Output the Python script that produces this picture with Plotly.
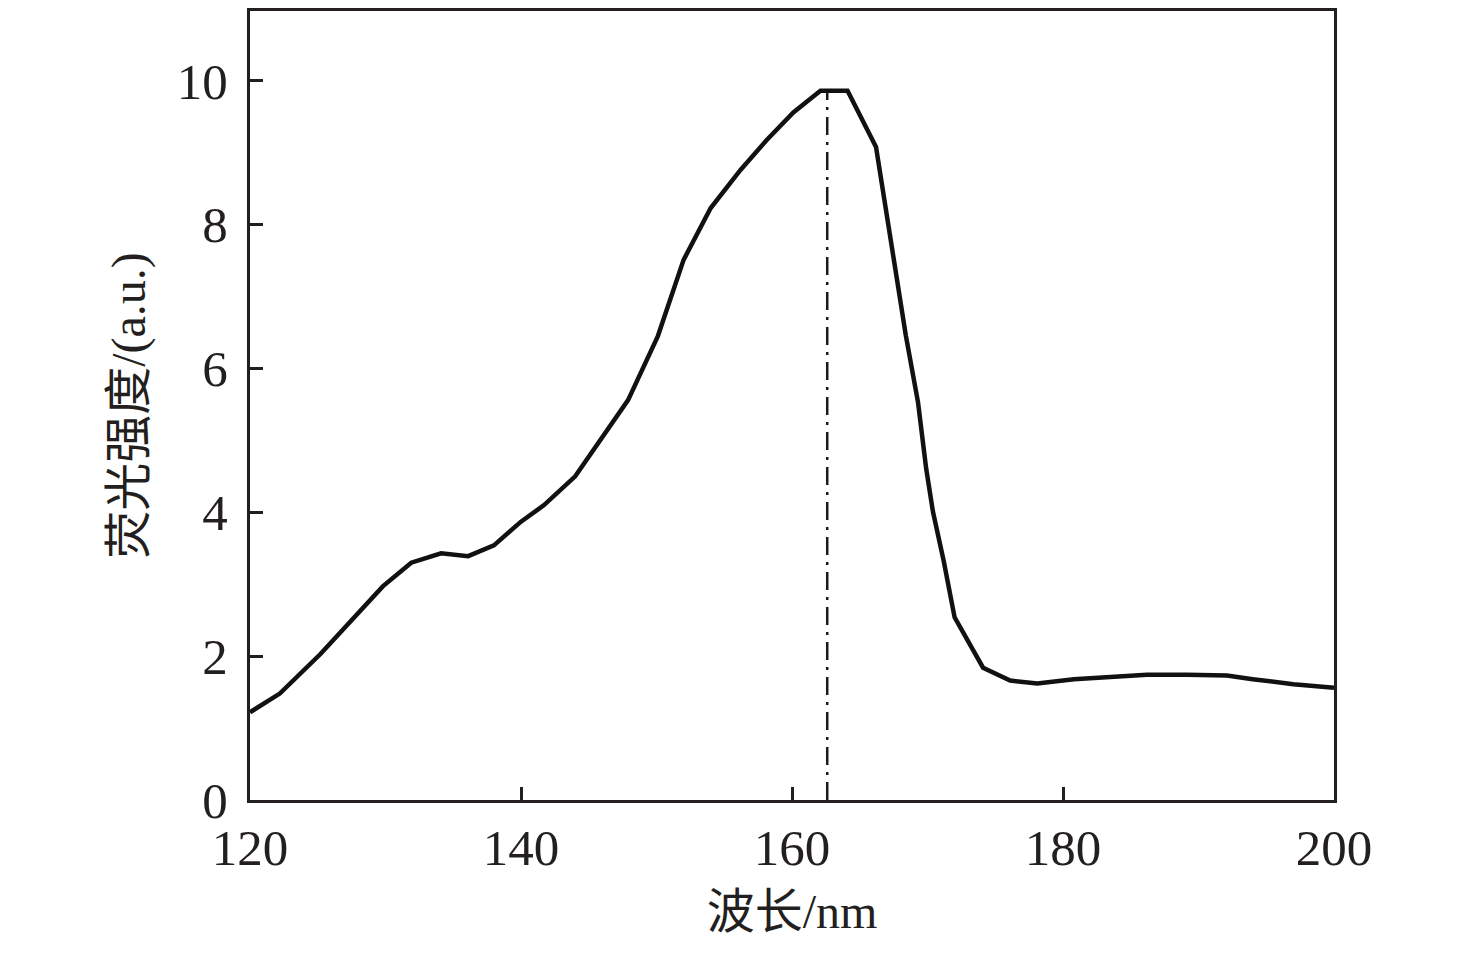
import plotly.graph_objects as go

# spectrum
wavelength = [120.0, 122.2, 125.2, 127.5, 129.8, 131.9, 134.1, 136.1, 138.0, 140.0,
              141.7, 144.0, 145.9, 147.9, 150.1, 152.0, 154.0, 156.2, 158.1, 160.1,
              162.1, 164.1, 166.2, 167.5, 168.4, 169.3, 169.9, 170.4, 171.2, 172.0,
              174.1, 176.1, 178.1, 180.8, 183.2, 186.2, 189.1, 192.1, 194.0, 197.0, 200.0]
intensity = [1.22, 1.48, 2.03, 2.49, 2.97, 3.30, 3.43, 3.39, 3.54, 3.87,
             4.10, 4.50, 5.03, 5.56, 6.45, 7.51, 8.23, 8.76, 9.17, 9.56,
             9.86, 9.86, 9.08, 7.47, 6.46, 5.53, 4.61, 4.01, 3.32, 2.54,
             1.84, 1.66, 1.62, 1.68, 1.71, 1.74, 1.74, 1.73, 1.68, 1.61, 1.56]

# peak marker (dash-dot line)
peak_x = [162.6, 162.6]
peak_y = [0.0, 9.86]

x_ticks = [120, 140, 160, 180, 200]
y_ticks = [0, 2, 4, 6, 8, 10]

font_main = "Liberation Serif, Noto Sans CJK SC, serif"

fig = go.Figure()
fig.add_trace(go.Scatter(x=peak_x, y=peak_y, mode="lines",
                         line=dict(color="#1a1a1a", width=2.5, dash="18px,7px,3px,7px"),
                         showlegend=False, hoverinfo="skip"))
fig.add_trace(go.Scatter(x=wavelength, y=intensity, mode="lines",
                         line=dict(color="#111111", width=4.5),
                         showlegend=False))

# page body adds 8px offset, so margins are shifted
fig.update_layout(
    width=1476, height=953,
    margin=dict(l=242, r=150, t=0, b=161),
    paper_bgcolor="white", plot_bgcolor="white",
    font=dict(family=font_main, size=50, color="#231f20"),
)
fig.update_xaxes(
    range=[120, 200], tickvals=x_ticks,
    showline=True, linecolor="#231f20", linewidth=3, mirror=True,
    ticks="inside", ticklen=13, tickwidth=3, tickcolor="#231f20",
    showgrid=False, zeroline=False,
    tickfont=dict(size=51), ticklabelstandoff=1,
    title=dict(text="波长/nm", font=dict(size=48), standoff=20),
)
fig.update_yaxes(
    range=[0, 10.97], tickvals=y_ticks,
    showline=True, linecolor="#231f20", linewidth=3, mirror=True,
    ticks="inside", ticklen=13, tickwidth=3, tickcolor="#231f20",
    showgrid=False, zeroline=False,
    tickfont=dict(size=51), ticklabelstandoff=9,
    title=dict(text="荧光强度/(a.u.)", font=dict(size=48), standoff=16),
)

fig.write_html("out.html")
